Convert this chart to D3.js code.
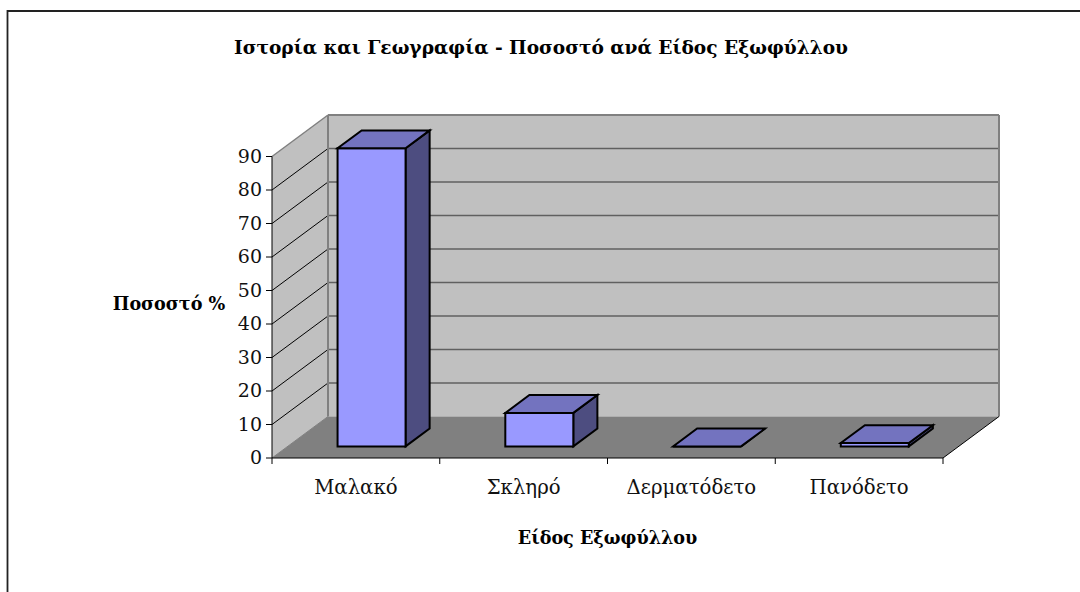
<!DOCTYPE html>
<html><head><meta charset="utf-8">
<script src="https://cdnjs.cloudflare.com/ajax/libs/d3/7.8.5/d3.min.js"></script>
<style>html,body{margin:0;padding:0;background:#fff;overflow:hidden}svg{display:block}</style>
</head><body><svg id="c" width="1080" height="592"></svg>
<script>
const categories = ["Μαλακό","Σκληρό","Δερματόδετο","Πανόδετο"];
const values = [89,10,0,1];
const yTicks = [0,10,20,30,40,50,60,70,80,90];
const titleText = "Ιστορία και Γεωγραφία - Ποσοστό ανά Είδος Εξωφύλλου";
const xTitleText = "Είδος Εξωφύλλου";
const yTitleText = "Ποσοστό %";

const serif = "'DejaVu Serif','Liberation Serif',serif";
const svg = d3.select("#c");
const x = d3.scaleBand().domain(categories).range([272,943]);
const y = d3.scaleLinear().domain([0,90]).range([458,156.5]);
const depthX = d3.scaleLinear().domain([0,1]).range([0,56]);
const depthY = d3.scaleLinear().domain([0,1]).range([0,-41.5]);
const P = (px,v,d)=>[px+depthX(d), y(v)+depthY(d)];
const poly = (pts,fill,stroke,sw,parent=svg)=>parent.append("polygon")
  .attr("points",pts.map(p=>p.join(",")).join(" ")).attr("fill",fill)
  .attr("stroke",stroke).attr("stroke-width",sw).attr("stroke-linejoin","miter");
const line = (a,b,stroke,sw)=>svg.append("line").attr("x1",a[0]).attr("y1",a[1]).attr("x2",b[0]).attr("y2",b[1]).attr("stroke",stroke).attr("stroke-width",sw);

// outer frame
svg.append("path").attr("d","M7.5,592V11H1080").attr("fill","none").attr("stroke","#222").attr("stroke-width",1.8);

const x0=x.range()[0], x1=x.range()[1];
// walls and floor
poly([P(x0,0,0),P(x0,90,0),P(x0,90,1),P(x0,0,1)],"#c0c0c0","none",0);
poly([P(x0,0,1),P(x0,90,1),P(x1,90,1),P(x1,0,1)],"#c0c0c0","none",0);
poly([P(x0,0,0),P(x0,0,1),P(x1,0,1),P(x1,0,0)],"#808080","none",0);
// gridlines
yTicks.filter(t=>t>0).forEach(t=>{
  if(t<90) line(P(x0,t,0),P(x0,t,1),"#000",1);
  line(P(x0,t,1),P(x1,t,1),"#606060",1.5);
});
// wall edges
line(P(x0,90,0),P(x0,90,1),"#808080",1.5);
line(P(x0,90,1),P(x1,90,1),"#808080",2);
line(P(x0,90,1),P(x0,0,1),"#808080",2);
line(P(x1,90,1),P(x1,0,1),"#808080",2);
line(P(x0,0,0),P(x0,0,1),"#808080",1);
line(P(x1,0,0),P(x1,0,1),"#000",1);

// bars
const barW = 68, dFront = 0.28, dBack = 0.71;
categories.forEach((c,i)=>{
  const v = values[i];
  const cx = x(c)+x.bandwidth()/2;
  const l = cx-barW/2, r = cx+barW/2;
  poly([P(r,0,dFront),P(r,0,dBack),P(r,v,dBack),P(r,v,dFront)],"#4d4d80","#000",2);
  poly([P(l,0,dFront),P(r,0,dFront),P(r,v,dFront),P(l,v,dFront)],"#9999ff","#000",2);
  poly([P(l,v,dFront),P(r,v,dFront),P(r,v,dBack),P(l,v,dBack)],"#7373bf","#000",2);
});

// axes
line([x0,y(90)],[x0,y(0)],"#000",1);
line([x0,y(0)],[x1,y(0)],"#000",1);
yTicks.forEach(t=>line([x0-6,y(t)],[x0,y(t)],"#000",1));
d3.range(categories.length+1).forEach(i=>{
  const px = x0 + i*x.step();
  line([px,y(0)],[px,y(0)+6],"#000",1);
});
svg.append("g").selectAll("text").data(yTicks).join("text")
  .attr("x",x0-10).attr("y",d=>y(d)+6).attr("text-anchor","end")
  .attr("font-family",serif).attr("font-size",19).attr("fill","#111").text(d=>d);
svg.append("g").selectAll("text").data(categories).join("text")
  .attr("x",d=>x(d)+x.bandwidth()/2).attr("y",494).attr("text-anchor","middle")
  .attr("font-family",serif).attr("font-size",19.7).attr("fill","#111").text(d=>d);

// titles
const t = (s,px,py,size)=>svg.append("text").attr("x",px).attr("y",py).attr("text-anchor","middle")
  .attr("font-family",serif).attr("font-size",size).attr("font-weight","bold").attr("fill","#000").text(s);
t(titleText,541,54,18.6);
t(xTitleText,607.5,544,17.6);
t(yTitleText,169,310,17.6);
</script></body></html>
